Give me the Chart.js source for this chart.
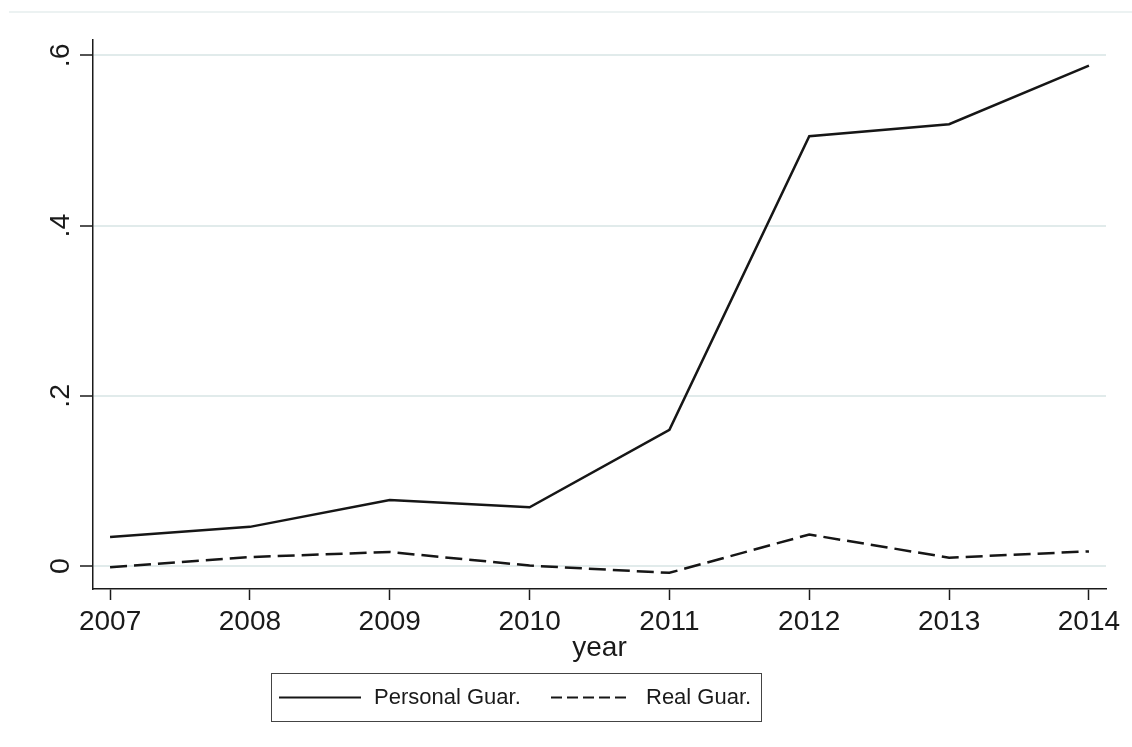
<!DOCTYPE html>
<html>
<head>
<meta charset="utf-8">
<script src="https://cdn.jsdelivr.net/npm/chart.js@4/dist/chart.umd.min.js"></script>
<style>
    html, body { margin: 0; padding: 0; background: #fff; }
    #wrap { width: 1132px; height: 747px; }
</style>
</head>
<body>
<div id="wrap"><canvas id="chart" width="1132" height="747"></canvas></div>
<script>
const years = [2007, 2008, 2009, 2010, 2011, 2012, 2013, 2014];
const personalGuar = [0.034, 0.046, 0.0775, 0.069, 0.160, 0.505, 0.519, 0.588];
const realGuar = [-0.0015, 0.0105, 0.0165, 0.0005, -0.008, 0.037, 0.0098, 0.0172];
const yTickValues = [0, 0.2, 0.4, 0.6];
const yTickLabels = ['0', '.2', '.4', '.6'];
const seriesLabels = ['Personal Guar.', 'Real Guar.'];

const fontFamily = '"Liberation Sans", Arial, sans-serif';
const lineColor = '#161616';
const gridColor = '#e1ebeb';

function toPoints(values) {
    return years.map((yr, i) => ({x: yr, y: values[i]}));
}

const topRule = {
    id: 'topRule',
    beforeDraw(chart) {
        let ctx = chart.ctx;
        ctx.save();
        ctx.strokeStyle = '#e6eeee';
        ctx.lineWidth = 1.5;
        ctx.beginPath();
        ctx.moveTo(9, 12);
        ctx.lineTo(1132, 12);
        ctx.stroke();
        ctx.restore();
    }
};

const rotatedYLabels = {
    id: 'rotatedYLabels',
    afterDraw(chart) {
        let ctx = chart.ctx;
        let yScale = chart.scales.y;
        ctx.save();
        ctx.fillStyle = '#1a1a1a';
        ctx.font = '28.5px ' + fontFamily;
        ctx.textAlign = 'center';
        ctx.textBaseline = 'alphabetic';
        yTickValues.forEach(function (v, i) {
            let py = yScale.getPixelForValue(v);
            ctx.save();
            ctx.translate(69, py);
            ctx.rotate(-Math.PI / 2);
            ctx.fillText(yTickLabels[i], 0, 0);
            ctx.restore();
        });
        ctx.restore();
    }
};

const boxedLegend = {
    id: 'boxedLegend',
    afterDraw(chart) {
        let ctx = chart.ctx;
        let sets = chart.data.datasets;
        ctx.save();
        ctx.strokeStyle = '#444';
        ctx.lineWidth = 1;
        ctx.strokeRect(271.5, 673.5, 490, 48);

        let items = [
            {x0: 279, x1: 361, tx: 374},
            {x0: 551, x1: 628, tx: 646}
        ];
        ctx.font = '22px ' + fontFamily;
        ctx.textBaseline = 'middle';
        ctx.textAlign = 'left';
        items.forEach(function (it, i) {
            ctx.strokeStyle = sets[i].borderColor;
            ctx.lineWidth = 2;
            ctx.setLineDash(i === 0 ? [] : [11, 5]);
            ctx.beginPath();
            ctx.moveTo(it.x0, 697.5);
            ctx.lineTo(it.x1, 697.5);
            ctx.stroke();
            ctx.setLineDash([]);
            ctx.fillStyle = '#1a1a1a';
            ctx.fillText(sets[i].label, it.tx, 698);
        });
        ctx.restore();
    }
};

new Chart(document.getElementById('chart'), {
    type: 'line',
    data: {
        datasets: [
            {
                label: seriesLabels[0],
                data: toPoints(personalGuar),
                borderColor: lineColor,
                borderWidth: 2.5,
                pointRadius: 0,
                tension: 0
            },
            {
                label: seriesLabels[1],
                data: toPoints(realGuar),
                borderColor: lineColor,
                borderWidth: 2.5,
                borderDash: [17, 7],
                pointRadius: 0,
                tension: 0
            }
        ]
    },
    options: {
        responsive: false,
        animation: false,
        layout: {padding: {left: 0, top: 40, right: 26, bottom: 0}},
        plugins: {
            legend: {display: false},
            tooltip: {enabled: false}
        },
        scales: {
            x: {
                type: 'linear',
                min: 2006.878,
                max: 2014.122,
                afterBuildTicks: function (scale) {
                    scale.ticks = years.map(v => ({value: v}));
                },
                afterFit: function (scale) {
                    scale.height = 158;
                },
                ticks: {
                    color: '#1a1a1a',
                    font: {family: fontFamily, size: 28},
                    padding: 5,
                    maxRotation: 0,
                    callback: v => String(v)
                },
                grid: {
                    drawOnChartArea: false,
                    tickColor: '#1a1a1a',
                    tickLength: 11,
                    tickWidth: 1.5
                },
                border: {color: '#1a1a1a', width: 1.5},
                title: {
                    display: true,
                    text: 'year',
                    color: '#1a1a1a',
                    font: {family: fontFamily, size: 28},
                    padding: {top: 0, bottom: 82}
                }
            },
            y: {
                type: 'linear',
                min: -0.027,
                max: 0.618,
                afterBuildTicks: function (scale) {
                    scale.ticks = yTickValues.map(v => ({value: v}));
                },
                afterFit: function (scale) {
                    scale.width = 93;
                },
                ticks: {display: false},
                grid: {
                    color: gridColor,
                    lineWidth: 2,
                    tickColor: '#1a1a1a',
                    tickLength: 13,
                    tickWidth: 1.5
                },
                border: {color: '#1a1a1a', width: 1.5}
            }
        }
    },
    plugins: [topRule, rotatedYLabels, boxedLegend]
});
</script>
</body>
</html>
